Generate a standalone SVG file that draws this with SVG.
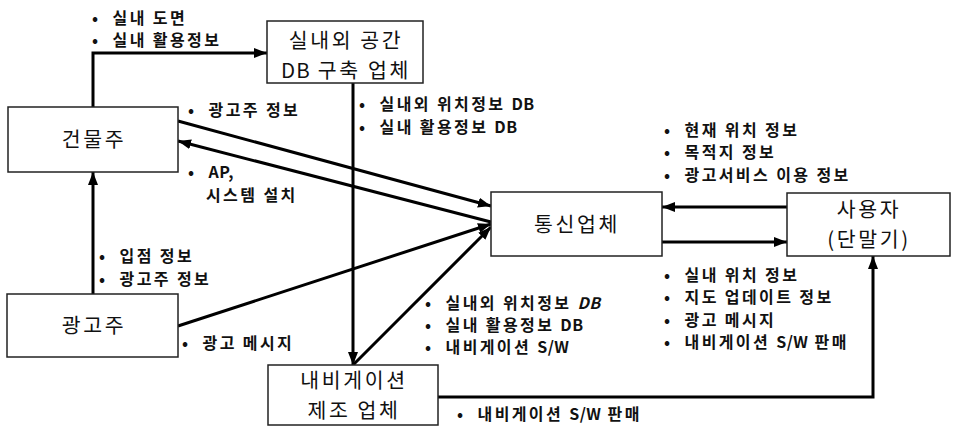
<svg xmlns="http://www.w3.org/2000/svg" width="955" height="432" viewBox="0 0 955 432">
<style>
.box{fill:#fff;stroke:#222;stroke-width:1.5}
.node{font-family:"Noto Sans CJK KR","Noto Sans",sans-serif;font-size:20.5px;fill:#111;text-anchor:middle;letter-spacing:2.6px}
.lbl{font-family:"Noto Sans CJK KR","Noto Sans",sans-serif;font-size:16px;font-weight:bold;fill:#111;letter-spacing:2.4px}
.lat{letter-spacing:0.5px}
.ln{fill:none;stroke:#000;stroke-width:3;marker-end:url(#ah)}
</style>
<defs>
<marker id="ah" markerUnits="userSpaceOnUse" markerWidth="14" markerHeight="12" refX="13" refY="5" orient="auto">
<path d="M0,0 L13,5 L0,10 z" fill="#000"/>
</marker>
</defs>
<g id="connectors">
<path class="ln" d="M93,107 V53 H267"/>
<path class="ln" d="M93,294 V172"/>
<path class="ln" d="M353,83 V365"/>
<path class="ln" d="M178,121 L491,206"/>
<path class="ln" d="M491,222 L178,141"/>
<path class="ln" d="M178,326 L491,224"/>
<path class="ln" d="M353,365 L491,227"/>
<path class="ln" d="M787,207 H662"/>
<path class="ln" d="M662,242 H787"/>
<path class="ln" d="M438,397 H873 V256"/>
</g>
<g id="building">
<rect class="box" x="8" y="107" width="170" height="65"/>
<text class="node" x="94" y="147">건물주</text>
</g>
<g id="dbvendor">
<rect class="box" x="267" y="21" width="156" height="62"/>
<text class="node" x="346" y="48">실내외 공간</text>
<text class="node" x="346" y="78"><tspan letter-spacing="1px">DB</tspan> 구축 업체</text>
</g>
<g id="telecom">
<rect class="box" x="491" y="192" width="171" height="64"/>
<text class="node" x="577" y="232">통신업체</text>
</g>
<g id="user">
<rect class="box" x="787" y="193" width="163" height="63"/>
<text class="node" x="869" y="217">사용자</text>
<text class="node" x="869" y="247">(단말기)</text>
</g>
<g id="advertiser">
<rect class="box" x="7" y="294" width="171" height="63"/>
<text class="node" x="94" y="333">광고주</text>
</g>
<g id="navmaker">
<rect class="box" x="268" y="365" width="170" height="60"/>
<text class="node" x="354" y="388">내비게이션</text>
<text class="node" x="354" y="418">제조 업체</text>
</g>
<g id="labels" class="lbl">
<text x="92" y="24" xml:space="preserve">•  실내 도면</text>
<text x="92" y="46" xml:space="preserve">•  실내 활용정보</text>
<text x="188" y="116" xml:space="preserve">•  광고주 정보</text>
<text x="188" y="178" xml:space="preserve">•  <tspan class="lat">AP,</tspan></text>
<text x="206" y="201">시스템 설치</text>
<text x="359" y="110" xml:space="preserve">•  실내외 위치정보 <tspan class="lat">DB</tspan></text>
<text x="359" y="133" xml:space="preserve">•  실내 활용정보 <tspan class="lat">DB</tspan></text>
<text x="664" y="136" xml:space="preserve">•  현재 위치 정보</text>
<text x="664" y="158" xml:space="preserve">•  목적지 정보</text>
<text x="664" y="181" xml:space="preserve">•  광고서비스 이용 정보</text>
<text x="664" y="281" xml:space="preserve">•  실내 위치 정보</text>
<text x="664" y="303" xml:space="preserve">•  지도 업데이트 정보</text>
<text x="664" y="326" xml:space="preserve">•  광고 메시지</text>
<text x="664" y="348" xml:space="preserve">•  내비게이션 <tspan class="lat">S/W</tspan> 판매</text>
<text x="425" y="309" xml:space="preserve">•  실내외 위치정보 <tspan class="lat" font-style="italic">DB</tspan></text>
<text x="425" y="331" xml:space="preserve">•  실내 활용정보 <tspan class="lat">DB</tspan></text>
<text x="425" y="353" xml:space="preserve">•  내비게이션 <tspan class="lat">S/W</tspan></text>
<text x="99" y="262" xml:space="preserve">•  입점 정보</text>
<text x="99" y="285" xml:space="preserve">•  광고주 정보</text>
<text x="182" y="349" xml:space="preserve">•  광고 메시지</text>
<text x="457" y="420" xml:space="preserve">•  내비게이션 <tspan class="lat">S/W</tspan> 판매</text>
</g>
</svg>
